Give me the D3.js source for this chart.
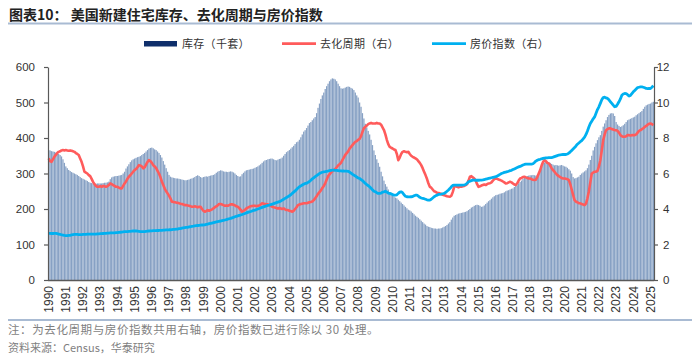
<!DOCTYPE html>
<html><head><meta charset="utf-8">
<script src="https://cdn.jsdelivr.net/npm/d3@7"></script>
<style>body{margin:0;background:#fff}svg{display:block}</style>
</head><body>
<svg id="c" width="700" height="359"></svg>
<script>
// ---------------- DATA ----------------
const yearLabels = ["1990","1991","1992","1993","1994","1995","1996","1997","1998","1999","2000","2001","2002","2003","2004","2005","2006","2007","2008","2009","2010","2011","2012","2013","2014","2015","2016","2017","2018","2019","2020","2021","2022","2023","2024","2025"];
const leftTicks = [0,100,200,300,400,500,600];
const rightTicks = [0,2,4,6,8,10,12];
const seriesNames = ["库存（千套）","去化周期（右）","房价指数（右）"];

// New homes for sale (thousand units), monthly Jan 1990 - Mar 2025
const inventory = [
366,365,363,362,361,359,357,355,352,348,340,330,
320,315,310,307,304,302,300,298,296,293,290,287,
285,283,281,279,276,274,273,272,271,271,272,272,
272,272,273,274,274,275,277,284,289,291,292,293,
293,294,295,296,300,305,314,320,326,332,337,340,
342,344,346,347,349,352,355,358,362,366,370,372,
373,371,368,366,362,358,352,345,335,325,315,305,
296,291,289,288,287,286,286,285,284,283,282,281,
281,282,283,285,286,288,290,293,295,293,290,288,
290,291,292,291,293,294,295,296,298,302,305,307,
309,308,306,305,305,304,305,306,305,303,300,296,
293,291,292,298,302,306,309,310,311,312,313,314,
316,318,320,323,326,330,334,337,338,340,341,342,
342,340,338,337,339,341,342,345,350,355,360,363,
366,370,374,378,383,388,390,395,402,410,418,422,
428,435,442,445,450,455,459,470,485,497,510,520,
528,538,546,553,560,565,568,567,565,560,553,546,
540,539,540,542,544,545,544,541,539,535,528,520,
514,500,488,470,455,440,430,420,410,395,380,365,
352,340,330,319,305,292,280,270,263,255,248,243,
238,235,232,230,226,222,218,214,210,206,202,198,
196,193,189,185,181,178,175,171,167,163,159,156,
152,150,149,147,146,145,145,144,145,145,146,148,
150,152,155,159,163,170,176,181,183,185,187,188,
189,190,191,192,194,197,200,204,206,209,211,212,
211,209,206,207,210,214,218,222,225,229,233,236,
239,240,241,243,244,245,247,250,252,253,255,257,
258,262,265,267,272,276,280,285,289,291,293,294,
295,295,296,295,294,295,300,310,320,328,331,333,
333,332,330,327,325,323,324,323,322,323,324,322,
320,319,316,312,308,300,290,286,287,289,291,296,
300,303,306,309,315,325,338,350,365,375,385,394,
402,408,420,432,441,450,459,465,469,470,469,462,
445,438,434,431,433,436,440,445,450,452,454,456,
458,460,464,467,470,473,476,482,488,492,494,496,
497,500,502
];

// Months' supply (right axis)
const monthsSupply = [
6.85,6.70,6.66,6.80,6.94,7.05,7.15,7.22,7.25,7.30,7.32,7.30,
7.32,7.30,7.28,7.30,7.28,7.25,7.22,7.15,7.10,7.04,6.85,6.66,
6.40,6.10,6.05,6.00,5.91,5.85,5.70,5.53,5.40,5.30,5.25,5.25,
5.29,5.25,5.30,5.29,5.25,5.29,5.35,5.44,5.40,5.35,5.30,5.25,
5.25,5.20,5.16,5.16,5.30,5.44,5.55,5.70,5.82,5.90,6.00,6.10,
6.19,6.25,6.35,6.47,6.45,6.40,6.29,6.35,6.50,6.65,6.75,6.70,
6.60,6.47,6.40,6.30,6.15,6.00,5.80,5.55,5.35,5.15,5.00,4.88,
4.75,4.60,4.41,4.40,4.38,4.36,4.35,4.33,4.30,4.28,4.25,4.22,
4.22,4.20,4.18,4.15,4.13,4.13,4.15,4.13,4.10,4.12,4.13,4.00,
3.90,3.85,3.88,3.94,3.90,3.94,3.98,4.03,4.10,4.15,4.20,4.28,
4.28,4.25,4.22,4.18,4.20,4.18,4.22,4.26,4.26,4.24,4.20,4.15,
4.13,4.05,3.95,3.85,3.90,3.95,4.03,4.08,4.12,4.15,4.17,4.18,
4.18,4.16,4.18,4.20,4.25,4.32,4.30,4.28,4.26,4.26,4.22,4.18,
4.13,4.10,4.08,4.05,4.03,4.05,4.03,4.00,4.03,3.98,3.94,3.94,
3.90,3.88,3.85,3.90,4.00,4.10,4.22,4.25,4.28,4.30,4.32,4.32,
4.32,4.35,4.38,4.40,4.42,4.50,4.60,4.72,4.85,4.95,5.05,5.18,
5.30,5.45,5.65,5.85,5.95,6.05,6.12,6.19,6.25,6.35,6.45,6.52,
6.60,6.75,6.90,7.05,7.15,7.25,7.40,7.50,7.60,7.70,7.78,7.82,
7.90,7.95,8.10,8.35,8.55,8.63,8.70,8.78,8.82,8.85,8.82,8.82,
8.82,8.85,8.82,8.82,8.75,8.60,8.45,8.20,7.90,7.65,7.50,7.45,
7.41,7.35,7.32,7.10,6.75,6.90,7.10,7.22,7.25,7.22,7.20,7.22,
7.10,7.00,6.94,6.90,6.85,6.80,6.70,6.60,6.47,6.30,6.10,5.91,
5.70,5.45,5.25,5.20,5.10,5.00,4.97,4.92,4.90,4.88,4.85,4.80,
4.78,4.75,4.72,4.70,4.69,4.75,4.95,5.25,5.28,5.25,5.22,5.25,
5.25,5.28,5.30,5.35,5.40,5.60,5.82,5.85,5.78,5.72,5.60,5.40,
5.25,5.28,5.32,5.35,5.38,5.35,5.40,5.44,5.45,5.50,5.60,5.68,
5.72,5.70,5.66,5.63,5.60,5.55,5.50,5.44,5.45,5.50,5.53,5.50,
5.44,5.38,5.35,5.45,5.60,5.72,5.75,5.80,5.82,5.78,5.75,5.72,
5.72,5.68,5.65,5.63,5.65,5.80,6.00,6.19,6.45,6.65,6.75,6.70,
6.60,6.57,6.45,6.30,6.19,6.10,6.00,5.91,5.85,5.80,5.75,5.72,
5.72,5.70,5.68,5.63,5.40,5.10,4.80,4.50,4.41,4.38,4.32,4.32,
4.28,4.25,4.22,4.30,4.60,5.00,5.50,6.00,6.05,6.10,6.10,6.15,
6.40,6.75,7.30,7.88,8.20,8.44,8.50,8.54,8.54,8.50,8.48,8.44,
8.44,8.40,8.30,8.16,8.10,8.07,8.07,8.10,8.16,8.16,8.14,8.16,
8.16,8.16,8.20,8.30,8.40,8.44,8.50,8.55,8.63,8.68,8.75,8.80,
8.82,8.78,8.72
];

// House price index / 30 (right axis)
const priceIndex = [
2.63,2.63,2.62,2.62,2.63,2.63,2.61,2.59,2.57,2.55,2.53,2.51,
2.50,2.50,2.51,2.52,2.54,2.56,2.57,2.57,2.57,2.56,2.56,2.56,
2.57,2.57,2.57,2.58,2.58,2.58,2.58,2.59,2.59,2.59,2.60,2.60,
2.61,2.61,2.62,2.63,2.63,2.64,2.64,2.65,2.65,2.66,2.66,2.67,
2.67,2.68,2.69,2.70,2.71,2.72,2.72,2.73,2.74,2.74,2.75,2.76,
2.76,2.76,2.75,2.74,2.73,2.72,2.72,2.73,2.74,2.75,2.76,2.77,
2.77,2.78,2.78,2.78,2.79,2.79,2.80,2.80,2.81,2.81,2.82,2.82,
2.83,2.83,2.84,2.85,2.85,2.86,2.87,2.89,2.90,2.92,2.94,2.95,
2.96,2.97,2.99,3.00,3.02,3.03,3.05,3.06,3.07,3.08,3.09,3.10,
3.10,3.11,3.13,3.15,3.17,3.19,3.21,3.23,3.25,3.27,3.29,3.31,
3.32,3.34,3.36,3.38,3.40,3.43,3.45,3.47,3.50,3.53,3.56,3.59,
3.61,3.64,3.66,3.69,3.72,3.75,3.78,3.81,3.84,3.86,3.89,3.92,
3.94,3.97,4.00,4.03,4.06,4.09,4.12,4.15,4.18,4.20,4.22,4.25,
4.27,4.30,4.33,4.36,4.39,4.41,4.45,4.50,4.55,4.60,4.65,4.70,
4.75,4.80,4.88,4.95,5.02,5.10,5.18,5.25,5.30,5.35,5.40,5.44,
5.45,5.50,5.55,5.62,5.70,5.76,5.82,5.88,5.94,6.00,6.04,6.07,
6.09,6.10,6.12,6.14,6.16,6.18,6.19,6.19,6.18,6.17,6.16,6.15,
6.15,6.14,6.14,6.13,6.13,6.12,6.08,6.02,5.96,5.91,5.86,5.80,
5.75,5.72,5.66,5.60,5.52,5.44,5.38,5.32,5.25,5.17,5.08,5.00,
4.97,4.92,4.88,4.88,4.90,4.95,4.97,5.00,4.95,4.90,4.88,4.85,
4.82,4.78,4.78,4.80,4.88,4.95,4.97,4.92,4.80,4.72,4.69,4.68,
4.68,4.69,4.70,4.74,4.78,4.78,4.72,4.66,4.62,4.60,4.58,4.55,
4.52,4.50,4.50,4.55,4.62,4.69,4.74,4.78,4.82,4.83,4.84,4.86,
4.88,4.93,5.00,5.07,5.15,5.25,5.33,5.35,5.35,5.35,5.34,5.35,
5.35,5.35,5.36,5.38,5.45,5.53,5.57,5.60,5.63,5.63,5.62,5.62,
5.62,5.63,5.63,5.64,5.66,5.68,5.70,5.72,5.74,5.76,5.78,5.80,
5.82,5.85,5.90,5.95,6.00,6.03,6.06,6.08,6.10,6.13,6.16,6.18,
6.22,6.26,6.30,6.34,6.37,6.40,6.44,6.48,6.51,6.53,6.53,6.53,
6.53,6.53,6.55,6.62,6.70,6.75,6.78,6.80,6.83,6.85,6.87,6.88,
6.88,6.89,6.90,6.90,6.92,6.95,6.98,7.01,7.04,7.05,7.06,7.07,
7.07,7.07,7.10,7.15,7.22,7.30,7.38,7.46,7.55,7.65,7.72,7.79,
7.85,7.95,8.05,8.20,8.40,8.62,8.82,8.95,9.08,9.19,9.40,9.60,
9.76,9.95,10.15,10.28,10.30,10.26,10.23,10.15,10.04,9.95,9.85,9.76,
9.78,9.90,10.04,10.20,10.41,10.48,10.51,10.50,10.44,10.36,10.40,10.50,
10.60,10.68,10.76,10.84,10.86,10.88,10.88,10.86,10.83,10.79,10.78,10.79,
10.79,10.86,10.95
];

// ---------------- CHART ----------------
const categories = inventory.map((d,i)=> yearLabels[Math.floor(i/12)] + "-" + String(i%12+1).padStart(2,"0"));
const P = {l:48, r:654, t:67, b:280};
const svg = d3.select("#c");
const CJK = "'Noto Sans CJK SC','Noto Sans',sans-serif";
const LAT = "'Liberation Sans',Arial,sans-serif";

const x = d3.scaleBand().domain(categories).range([P.l, P.r]).paddingInner(0.12).paddingOuter(0);
const yL = d3.scaleLinear().domain([0,600]).range([P.b, P.t]);
const yR = d3.scaleLinear().domain([0,12]).range([P.b, P.t]);
const cx = i => x(categories[i]) + x.bandwidth()/2;

// title
svg.append("text").attr("x",9).attr("y",20).attr("font-family",CJK).attr("font-weight","bold")
  .attr("font-size",14).attr("fill","#222").text("图表10：  美国新建住宅库存、去化周期与房价指数");
svg.append("line").attr("x1",8).attr("x2",692).attr("y1",23.5).attr("y2",23.5).attr("stroke","#a9bbd3").attr("stroke-width",2);

// legend
const legend = [
  {name:seriesNames[0], type:"bar", color:"#0f2f6b", x:144},
  {name:seriesNames[1], type:"line", color:"#ff5b5b", x:282},
  {name:seriesNames[2], type:"line", color:"#00b0f0", x:432}
];
const lg = svg.append("g");
legend.forEach(d=>{
  if(d.type==="bar") lg.append("rect").attr("x",d.x).attr("y",41).attr("width",33).attr("height",5.5).attr("fill",d.color);
  else lg.append("line").attr("x1",d.x).attr("x2",d.x+34).attr("y1",43.7).attr("y2",43.7).attr("stroke",d.color).attr("stroke-width",2.8);
  lg.append("text").attr("x",d.x+38).attr("y",48).attr("font-family",CJK).attr("font-size",11).attr("letter-spacing",0.3).attr("fill","#333").text(d.name);
});

// bars
svg.append("g").selectAll("rect").data(inventory).join("rect")
  .attr("x",(d,i)=>x(categories[i])).attr("y",d=>yL(d))
  .attr("width",x.bandwidth()).attr("height",d=>yL(0)-yL(d))
  .attr("fill","#87a1c4");

// lines
const lineGen = d3.line().x((d,i)=>cx(i)).y(d=>yR(d));
svg.append("path").datum(monthsSupply).attr("d",lineGen).attr("fill","none")
  .attr("stroke","#ff5b5b").attr("stroke-width",2.6).attr("stroke-linejoin","round");
svg.append("path").datum(priceIndex).attr("d",lineGen).attr("fill","none")
  .attr("stroke","#00b0f0").attr("stroke-width",2.8).attr("stroke-linejoin","round");

// axes
const axisColor = "#595959";
const gL = svg.append("g").attr("transform",`translate(${P.l},0)`)
  .call(d3.axisLeft(yL).tickValues(leftTicks).tickSize(4).tickSizeOuter(0).tickPadding(9));
const gR = svg.append("g").attr("transform",`translate(${P.r},0)`)
  .call(d3.axisRight(yR).tickValues(rightTicks).tickSize(4).tickSizeOuter(0).tickPadding(11));
gR.selectAll("text").attr("text-anchor","end").attr("x",15.5);
[gL,gR].forEach(g=>{
  g.select(".domain").attr("stroke",axisColor).attr("stroke-width",1.2);
  g.selectAll(".tick line").attr("stroke",axisColor).attr("stroke-width",1.2);
  g.selectAll("text").attr("font-family",LAT).attr("font-size",11.5).attr("fill","#333");
});
svg.append("line").attr("x1",P.l).attr("x2",P.r).attr("y1",P.b+0.5).attr("y2",P.b+0.5)
  .attr("stroke",axisColor).attr("stroke-width",1.6);

// x labels (January of each year)
const xLab = svg.append("g");
categories.forEach((c,i)=>{
  if(i%12===0){
    const px = cx(i);
    xLab.append("text").attr("transform",`translate(${px},${P.b+6}) rotate(-90)`)
      .attr("text-anchor","end").attr("dy","0.35em")
      .attr("font-family",LAT).attr("font-size",12).attr("fill","#333").text(yearLabels[i/12]);
  }
});

// footer
svg.append("line").attr("x1",8).attr("x2",692).attr("y1",320).attr("y2",320).attr("stroke","#a9bbd3").attr("stroke-width",2);
svg.append("text").attr("x",8).attr("y",334).attr("font-family",CJK).attr("font-size",11.5).attr("letter-spacing",0.6).attr("fill","#7f7f7f")
  .text("注：为去化周期与房价指数共用右轴，房价指数已进行除以 30 处理。");
svg.append("text").attr("x",8).attr("y",352).attr("font-family",CJK).attr("font-size",11).attr("fill","#7f7f7f")
  .text("资料来源：Census，华泰研究");
</script>
</body></html>
